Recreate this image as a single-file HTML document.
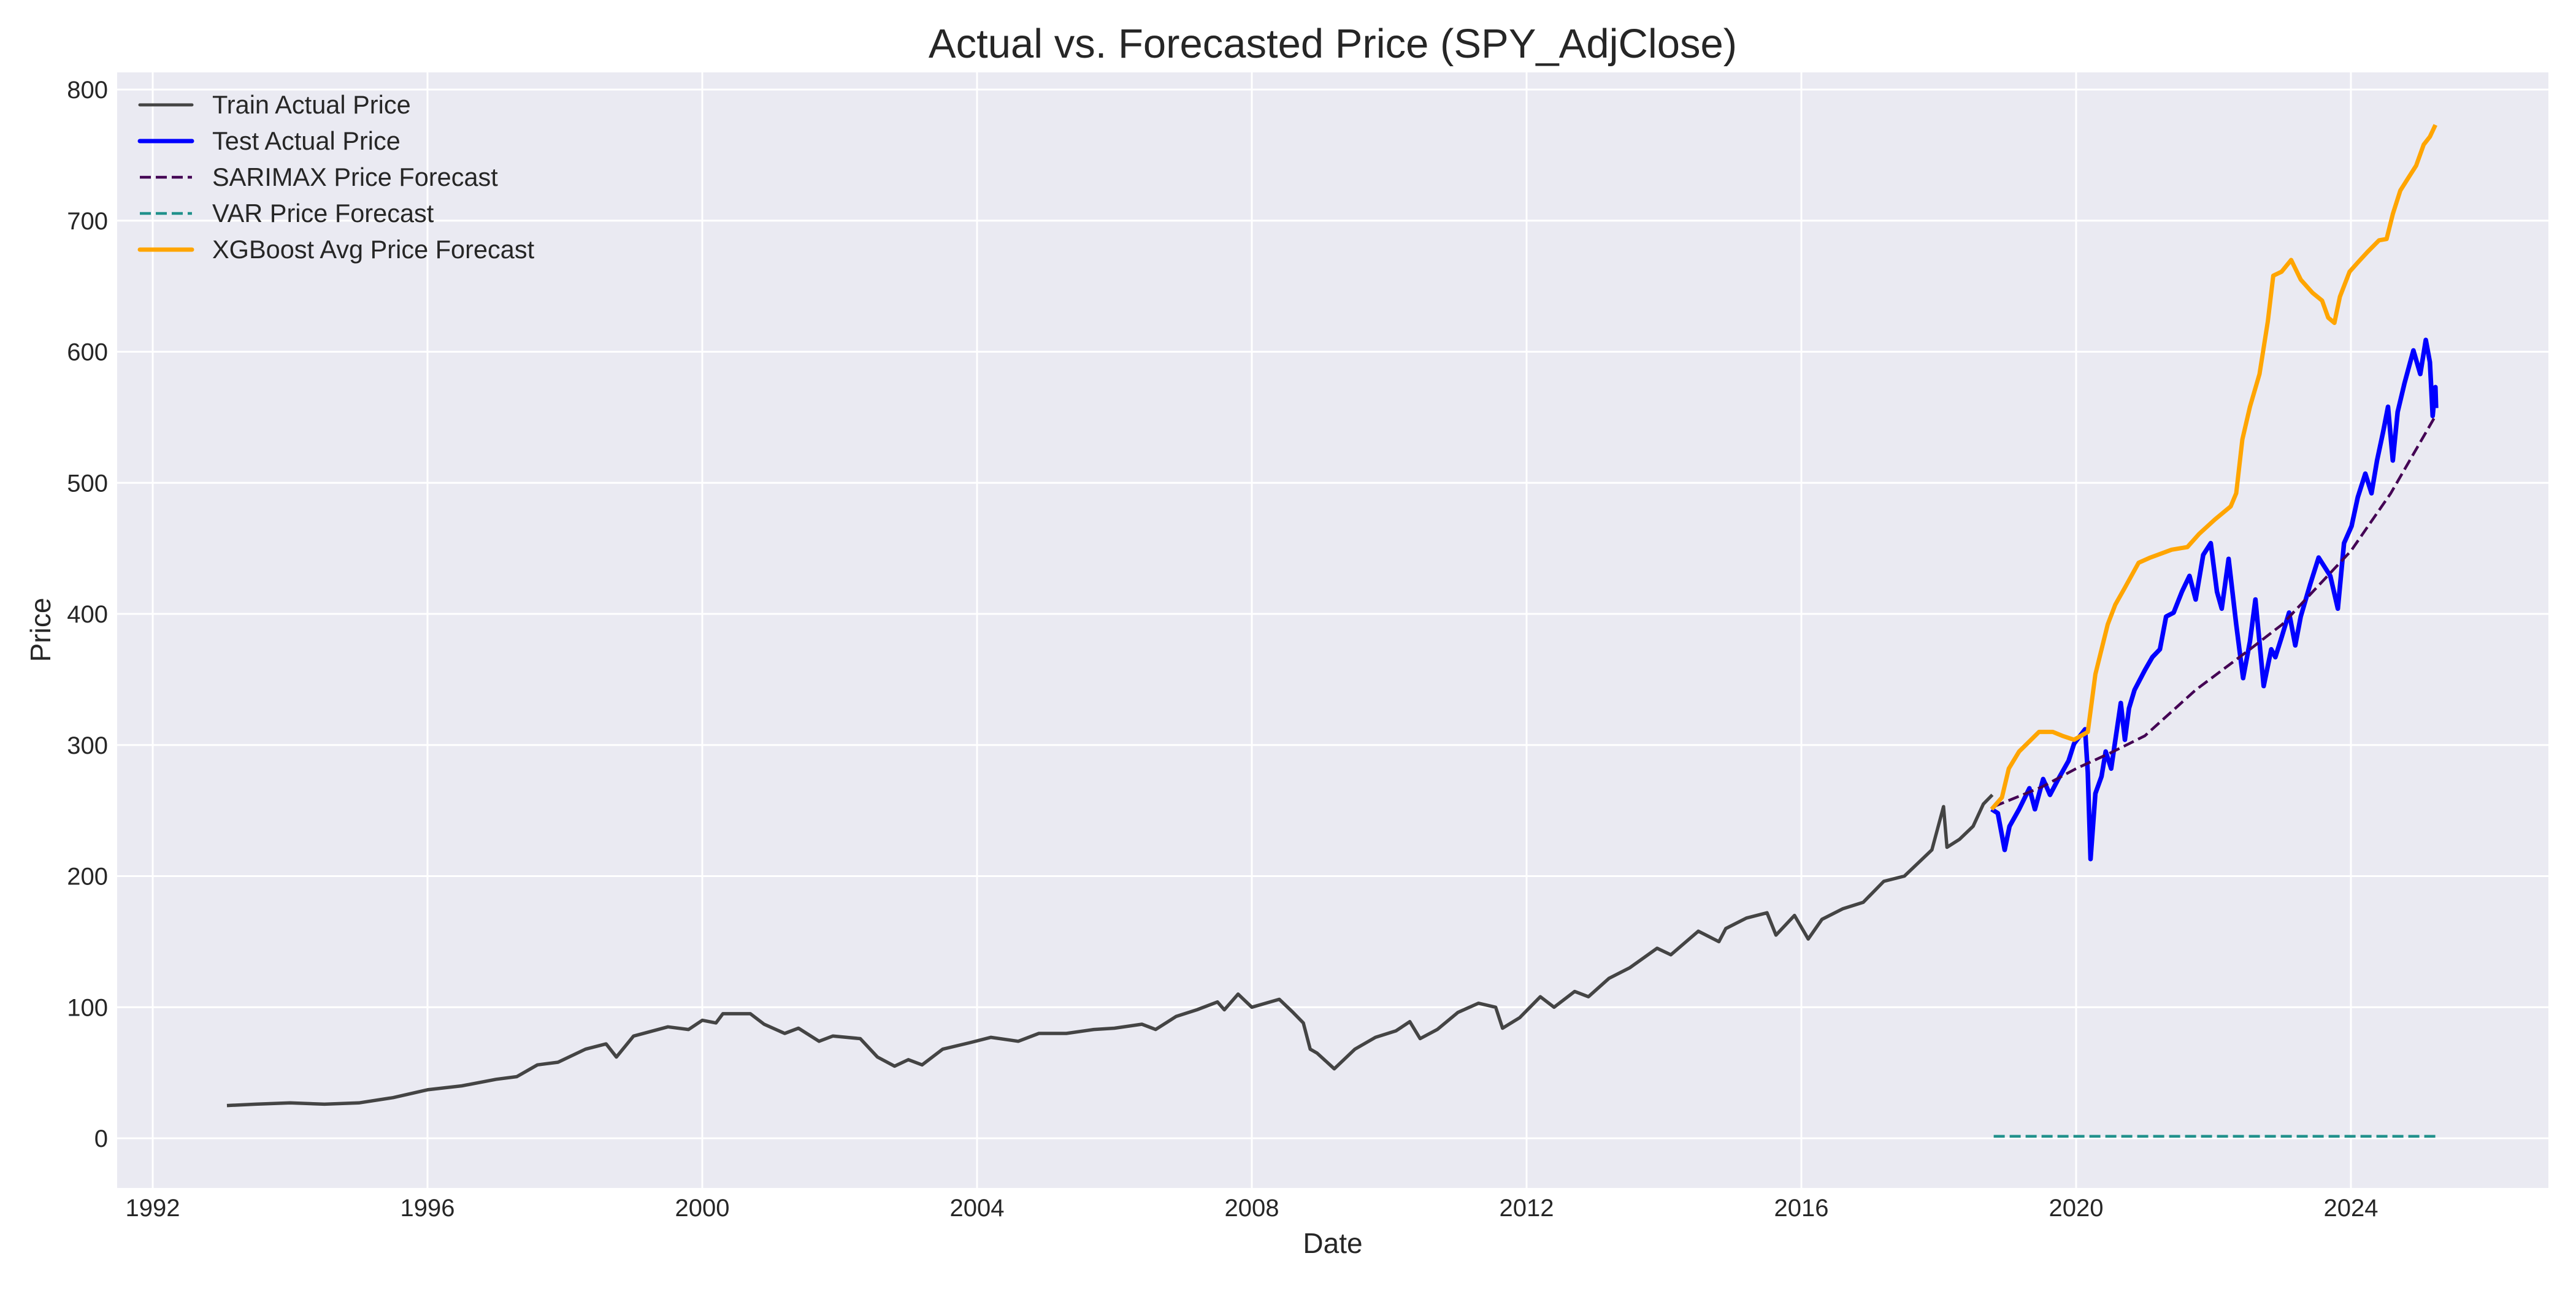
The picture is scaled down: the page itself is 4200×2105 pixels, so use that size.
<!DOCTYPE html>
<html><head><meta charset="utf-8"><style>
html,body{margin:0;padding:0;background:#fff}
svg text{font-family:"Liberation Sans",Arial,sans-serif;fill:#262626}
</style></head><body>
<svg id="chart" width="4200" height="2100" xmlns="http://www.w3.org/2000/svg">
<rect x="191" y="118" width="3964" height="1819" fill="#eaeaf2"/>
<g id="grid"></g>
<g id="yticks"></g>
<g id="xticks"></g>
<g id="series"></g>
<text x="2173" y="94" font-size="67" text-anchor="middle">Actual vs. Forecasted Price (SPY_AdjClose)</text>
<text x="2173" y="2043" font-size="46" text-anchor="middle">Date</text>
<text x="82" y="1027" font-size="46" text-anchor="middle" transform="rotate(-90 82 1027)">Price</text>
<g>
<line x1="228" y1="171" x2="313" y2="171" stroke="#444" stroke-width="5" stroke-linecap="round"/>
<text x="346" y="185" font-size="41.5">Train Actual Price</text>
<line x1="228" y1="230" x2="313" y2="230" stroke="#0000ff" stroke-width="7" stroke-linecap="round"/>
<text x="346" y="244" font-size="41.5">Test Actual Price</text>
<line x1="228" y1="289" x2="313" y2="289" stroke="#440154" stroke-width="4.5" stroke-dasharray="18 8"/>
<text x="346" y="303" font-size="41.5">SARIMAX Price Forecast</text>
<line x1="228" y1="348" x2="313" y2="348" stroke="#21918c" stroke-width="4.5" stroke-dasharray="18 8"/>
<text x="346" y="362" font-size="41.5">VAR Price Forecast</text>
<line x1="228" y1="407" x2="313" y2="407" stroke="#ffa500" stroke-width="7" stroke-linecap="round"/>
<text x="346" y="421" font-size="41.5">XGBoost Avg Price Forecast</text>
</g>
</svg>
<script>
const yTicks=[0,100,200,300,400,500,600,700,800];
const xTicks=[1992,1996,2000,2004,2008,2012,2016,2020,2024];
const trainT=[1993.08,1993.5,1994.0,1994.5,1995.0,1995.5,1996.0,1996.5,1997.0,1997.3,1997.6,1997.9,1998.3,1998.6,1998.75,1999.0,1999.5,1999.8,2000.0,2000.2,2000.3,2000.7,2000.9,2001.2,2001.4,2001.7,2001.9,2002.3,2002.55,2002.8,2003.0,2003.2,2003.5,2003.9,2004.2,2004.6,2004.9,2005.3,2005.7,2006.0,2006.4,2006.6,2006.9,2007.2,2007.5,2007.6,2007.8,2008.0,2008.4,2008.6,2008.75,2008.85,2008.95,2009.2,2009.5,2009.8,2010.1,2010.3,2010.45,2010.7,2011.0,2011.3,2011.55,2011.65,2011.9,2012.2,2012.4,2012.7,2012.9,2013.2,2013.5,2013.9,2014.1,2014.5,2014.8,2014.9,2015.2,2015.5,2015.63,2015.9,2016.1,2016.3,2016.6,2016.9,2017.2,2017.5,2017.9,2018.07,2018.12,2018.3,2018.5,2018.65,2018.78];
const trainV=[25,26,27,26,27,31,37,40,45,47,56,58,68,72,62,78,85,83,90,88,95,95,87,80,84,74,78,76,62,55,60,56,68,73,77,74,80,80,83,84,87,83,93,98,104,98,110,100,106,96,88,68,65,53,68,77,82,89,76,83,96,103,100,84,92,108,100,112,108,122,130,145,140,158,150,160,168,172,155,170,152,167,175,180,196,200,220,253,222,228,238,255,262];
const testT=[2018.77,2018.86,2018.96,2019.03,2019.17,2019.32,2019.40,2019.52,2019.62,2019.74,2019.89,2019.97,2020.13,2020.17,2020.21,2020.28,2020.37,2020.43,2020.51,2020.65,2020.71,2020.77,2020.85,2021.0,2021.11,2021.22,2021.31,2021.42,2021.54,2021.65,2021.74,2021.85,2021.96,2022.05,2022.12,2022.22,2022.33,2022.43,2022.53,2022.61,2022.73,2022.84,2022.90,2022.99,2023.10,2023.19,2023.27,2023.41,2023.53,2023.70,2023.81,2023.90,2024.01,2024.10,2024.21,2024.30,2024.38,2024.47,2024.54,2024.61,2024.68,2024.78,2024.91,2025.01,2025.09,2025.15,2025.19,2025.23,2025.24];
const testV=[251,248,220,238,251,267,251,274,262,274,288,301,312,279,213,263,276,295,282,332,304,328,342,357,367,373,398,401,417,429,411,445,454,417,404,442,392,351,379,411,345,373,367,382,401,376,398,423,443,429,404,454,467,489,507,492,517,539,558,517,554,576,601,583,609,592,551,573,557];
const xgbT=[2018.77,2018.92,2019.02,2019.17,2019.46,2019.66,2019.80,2019.97,2020.17,2020.28,2020.46,2020.57,2020.71,2020.91,2021.08,2021.39,2021.62,2021.79,2022.02,2022.25,2022.33,2022.42,2022.53,2022.67,2022.79,2022.87,2022.99,2023.13,2023.27,2023.44,2023.58,2023.67,2023.76,2023.84,2023.98,2024.10,2024.24,2024.41,2024.52,2024.61,2024.72,2024.84,2024.95,2025.06,2025.15,2025.23];
const xgbV=[251,260,282,295,310,310,307,304,310,354,392,407,420,439,443,449,451,461,472,482,492,533,558,583,623,658,661,670,655,645,639,626,622,642,661,668,676,685,686,705,723,733,742,758,764,773];
const sarT=[2018.8,2019.5,2020.0,2020.5,2021.0,2021.74,2022.53,2023.0,2023.5,2024.0,2024.58,2025.23];
const sarV=[253,268,282,294,307,342,373,392,420,448,492,551];
const varT=[2018.8,2025.23];
const varV=[1.5,1.5];

const NS='http://www.w3.org/2000/svg';
const X=t=>249+(t-1992)*112;
const Y=v=>1856-v*2.1375;
function mk(tag,attrs,parent){const e=document.createElementNS(NS,tag);for(const k in attrs)e.setAttribute(k,attrs[k]);parent.appendChild(e);return e;}
const grid=document.getElementById('grid'),yt=document.getElementById('yticks'),xt=document.getElementById('xticks'),ser=document.getElementById('series');
yTicks.forEach(v=>{
  const l=mk('line',{x1:191,x2:4155,y1:Y(v),y2:Y(v),stroke:'#fff','stroke-width':3},grid);
  
  
  const t=mk('text',{x:176,y:Y(v)+14,'font-size':40,'text-anchor':'end'},yt);
  
  
  t.textContent=v;
});
xTicks.forEach(v=>{
  const l=mk('line',{x1:X(v),x2:X(v),y1:118,y2:1937,stroke:'#fff','stroke-width':3},grid);
  
  
  const t=mk('text',{x:X(v),y:1983,'font-size':40,'text-anchor':'middle'},xt);
  
  
  t.textContent=v;
});
function line(T,V,attrs,name){
  const d=T.map((t,i)=>(i?'L':'M')+X(t).toFixed(1)+' '+Y(V[i]).toFixed(1)).join(' ');
  const p=mk('path',Object.assign({d:d,fill:'none','stroke-linejoin':'round'},attrs),ser);
  
  
}
line(trainT,trainV,{stroke:'#444','stroke-width':5.5},'train-actual-line');
line(testT,testV,{stroke:'#0000ff','stroke-width':7.5},'test-actual-line');
line(sarT,sarV,{stroke:'#440154','stroke-width':4.5,'stroke-dasharray':'18 8'},'sarimax-forecast-line');
line(varT,varV,{stroke:'#21918c','stroke-width':4.5,'stroke-dasharray':'18 8'},'var-forecast-line');
line(xgbT,xgbV,{stroke:'#ffa500','stroke-width':7},'xgboost-forecast-line');
</script>
</body></html>
